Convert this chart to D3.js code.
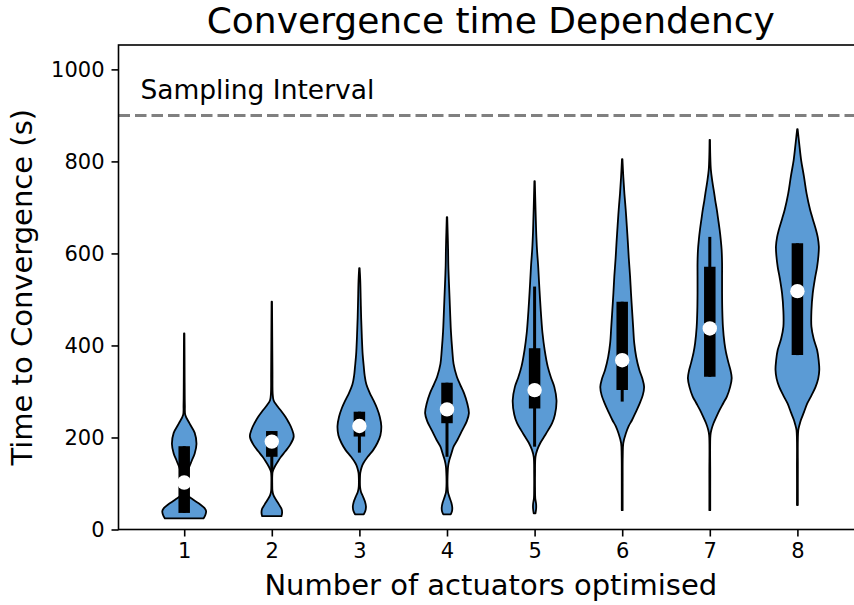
<!DOCTYPE html>
<html><head><meta charset="utf-8">
<script src="https://cdn.jsdelivr.net/npm/d3@7"></script>
<style>
body{margin:0;background:#fff}
svg{display:block}
text{font-family:"DejaVu Sans",sans-serif;fill:#000}
</style>
</head><body>
<svg id="chart" width="854" height="605"></svg>
<script>
// ---- data ----
const categories = [1, 2, 3, 4, 5, 6, 7, 8];
const medians     = [102, 191, 225, 261, 303, 368, 437, 518];
const quartile1   = [36, 158, 202, 231, 263, 303, 332, 379];
const quartile3   = [181, 214, 256, 319, 394, 495, 571, 622];
const whiskerLow  = [36, 126, 167, 158, 180, 278, 332, 379];
const whiskerHigh = [181, 214, 256, 319, 528, 495, 636, 622];
const yTicks = [0, 200, 400, 600, 800, 1000];
const samplingInterval = 900;

// violin density profiles: [value (s), relative density 0..1]
const violin1 = [[24,0.88],[32,0.97],[40,1.0],[47,0.92],[55,0.72],[65,0.4],[75,0.15],[85,0.1],[100,0.1],[120,0.14],[135,0.22],[150,0.35],[165,0.48],[186,0.56],[210,0.48],[230,0.25],[249,0.05],[270,0.03],[320,0.02],[380,0.015],[426,0.01]];
const violin2 = [[29,0.44],[36,0.47],[44,0.45],[54,0.33],[64,0.2],[74,0.08],[84,0.03],[100,0.02],[115,0.02],[126,0.04],[137,0.14],[148,0.28],[158,0.42],[170,0.62],[185,0.85],[202,1.0],[218,0.92],[232,0.78],[245,0.62],[258,0.42],[270,0.22],[281,0.08],[295,0.04],[340,0.03],[420,0.02],[495,0.01]];
const violin3 = [[33,0.2],[40,0.27],[50,0.3],[60,0.26],[71,0.17],[82,0.07],[93,0.03],[110,0.025],[123,0.04],[135,0.1],[144,0.18],[158,0.38],[172,0.62],[188,0.82],[205,0.96],[225,1.0],[245,0.93],[264,0.8],[280,0.65],[296,0.48],[315,0.32],[335,0.24],[354,0.2],[380,0.15],[420,0.11],[460,0.08],[500,0.06],[540,0.04],[568,0.01]];
const violin4 = [[33,0.17],[40,0.23],[48,0.24],[58,0.2],[68,0.13],[80,0.05],[95,0.025],[115,0.025],[137,0.05],[150,0.1],[165,0.2],[180,0.3],[195,0.48],[216,0.7],[235,0.9],[253,1.0],[275,0.92],[296,0.78],[315,0.6],[332,0.45],[360,0.3],[390,0.24],[430,0.18],[463,0.15],[500,0.12],[535,0.09],[575,0.06],[608,0.05],[645,0.03],[679,0.01]];
const violin5 = [[35,0.04],[45,0.07],[55,0.07],[68,0.03],[90,0.02],[120,0.02],[158,0.04],[173,0.12],[188,0.26],[202,0.44],[216,0.62],[231,0.8],[250,0.93],[281,1.0],[310,0.9],[330,0.75],[354,0.6],[390,0.46],[427,0.36],[463,0.3],[499,0.25],[540,0.2],[575,0.16],[608,0.11],[650,0.07],[700,0.04],[757,0.01]];
const violin6 = [[42,0.02],[100,0.02],[160,0.025],[188,0.05],[209,0.17],[225,0.3],[238,0.45],[255,0.62],[274,0.8],[292,0.94],[310,1.0],[328,0.92],[347,0.78],[375,0.64],[405,0.55],[440,0.5],[477,0.45],[515,0.4],[550,0.36],[590,0.3],[623,0.26],[660,0.21],[695,0.16],[730,0.1],[767,0.05],[805,0.01]];
const violin7 = [[42,0.02],[120,0.02],[205,0.03],[218,0.08],[231,0.17],[245,0.3],[260,0.45],[275,0.62],[289,0.78],[310,0.93],[329,1.0],[345,0.95],[361,0.86],[385,0.74],[405,0.67],[440,0.6],[477,0.57],[515,0.56],[550,0.56],[580,0.56],[608,0.54],[630,0.5],[651,0.45],[675,0.38],[695,0.32],[715,0.25],[731,0.2],[755,0.12],[781,0.05],[815,0.02],[847,0.01]];
const violin8 = [[53,0.02],[130,0.02],[216,0.04],[228,0.1],[238,0.16],[255,0.3],[274,0.45],[292,0.65],[310,0.83],[328,0.95],[347,1.0],[368,0.97],[390,0.9],[415,0.74],[441,0.64],[475,0.64],[513,0.7],[545,0.8],[571,0.9],[595,0.96],[615,0.98],[635,0.93],[651,0.85],[675,0.7],[695,0.58],[730,0.42],[767,0.3],[803,0.17],[840,0.08],[870,0.01]];
const violins = [violin1, violin2, violin3, violin4, violin5, violin6, violin7, violin8];

// ---- layout ----
const svg = d3.select("#chart");
const mLeft = 118.5, mTop = 45, mBottom = 529.5, unit = 87.6;
const x = d3.scaleLinear().domain([0.25, 8.75]).range([mLeft, mLeft + 8.5 * unit]);
const y = d3.scaleLinear().domain([0, 1053]).range([mBottom, mTop]);
const halfW = d3.scaleLinear().domain([0, 1]).range([0, x(1.25) - x(1)]);
const mRight = x(8.75);

// sampling interval line
svg.append("line")
  .attr("x1", mLeft).attr("x2", mRight)
  .attr("y1", y(samplingInterval)).attr("y2", y(samplingInterval))
  .attr("stroke", "#808080").attr("stroke-width", 3)
  .attr("stroke-dasharray", "11.5 5");
svg.append("text")
  .attr("x", x(0.5)).attr("y", y(935))
  .attr("font-size", 26.5).text("Sampling Interval");

// violins
const g = svg.append("g");
violins.forEach((prof, i) => {
  const cx = x(categories[i]);
  const area = d3.area()
    .curve(d3.curveCatmullRom)
    .y(d => y(d[0]))
    .x0(d => cx - halfW(d[1]))
    .x1(d => cx + halfW(d[1]));
  g.append("path").attr("d", area(prof))
    .attr("fill", "#5B9BD5").attr("stroke", "#000").attr("stroke-width", 1.8)
    .attr("stroke-linejoin", "round");
});

// whiskers, boxes, medians
categories.forEach((c, i) => {
  const cx = x(c);
  g.append("line").attr("x1", cx).attr("x2", cx)
    .attr("y1", y(whiskerLow[i])).attr("y2", y(whiskerHigh[i]))
    .attr("stroke", "#000").attr("stroke-width", 3);
  g.append("line").attr("x1", cx).attr("x2", cx)
    .attr("y1", y(quartile1[i])).attr("y2", y(quartile3[i]))
    .attr("stroke", "#000").attr("stroke-width", 11.5);
  g.append("circle").attr("cx", cx).attr("cy", y(medians[i]))
    .attr("r", 7.2).attr("fill", "#fff");
});

// axes
const yAxis = d3.axisLeft(y).tickValues(yTicks).tickSize(7).tickPadding(7).tickFormat(d3.format("d"));
const xAxis = d3.axisBottom(x).tickValues(categories).tickSize(7).tickPadding(7).tickFormat(d3.format("d"));
const ya = svg.append("g").attr("transform", `translate(${mLeft},0)`).call(yAxis);
const xa = svg.append("g").attr("transform", `translate(0,${mBottom})`).call(xAxis);
[ya, xa].forEach(a => {
  a.select(".domain").remove();
  a.selectAll(".tick line").attr("stroke", "#000").attr("stroke-width", 1.6);
  a.selectAll(".tick text").attr("font-size", 21).attr("font-family", "DejaVu Sans").attr("fill", "#000");
});

// frame
svg.append("rect").attr("x", mLeft).attr("y", mTop)
  .attr("width", mRight - mLeft).attr("height", mBottom - mTop)
  .attr("fill", "none").attr("stroke", "#000").attr("stroke-width", 1.6);

// titles
const cxAxes = (mLeft + mRight) / 2;
svg.append("text").attr("x", cxAxes).attr("y", 33).attr("text-anchor", "middle")
  .attr("font-size", 36).text("Convergence time Dependency");
svg.append("text").attr("x", cxAxes).attr("y", 595).attr("text-anchor", "middle")
  .attr("font-size", 29).text("Number of actuators optimised");
svg.append("text").attr("transform", `translate(32,${(mTop + mBottom) / 2}) rotate(-90)`)
  .attr("text-anchor", "middle").attr("font-size", 29).text("Time to Convergence (s)");
</script>
</body></html>
